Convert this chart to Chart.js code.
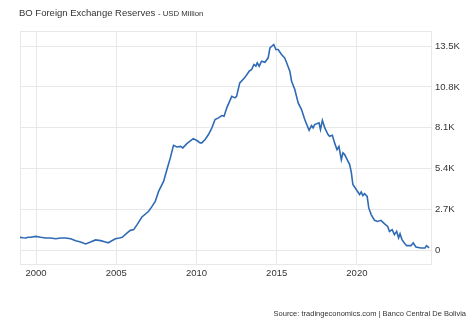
<!DOCTYPE html>
<html>
<head>
<meta charset="utf-8">
<script src="https://cdn.jsdelivr.net/npm/chart.js@4"></script>
<style>
body { margin: 0; background: #fff; }
#wrap { position: relative; width: 474px; height: 324px; font-family: "Liberation Sans", Arial, sans-serif; color: #333; }
#title { position: absolute; left: 19px; top: 7px; font-size: 9.5px; white-space: nowrap; }
#title span { font-size: 7.8px; }
#source { position: absolute; right: 8px; top: 309px; font-size: 7.5px; white-space: nowrap; }
canvas { position: absolute; left: 0; top: 0; }
</style>
</head>
<body>
<div id="wrap">
  <canvas id="chart" width="474" height="324"></canvas>
  <div id="title">BO Foreign Exchange Reserves <span>- USD Million</span></div>
  <div id="source">Source: tradingeconomics.com | Banco Central De Bolivia</div>
</div>
<script>
// decimal years and reserves in USD million
const dates = [
  1999.00, 1999.20, 1999.36, 1999.50, 1999.67, 1999.98, 2000.29, 2000.60,
  2000.91, 2001.22, 2001.53, 2001.84, 2002.16, 2002.47, 2002.78, 2003.09,
  2003.40, 2003.71, 2004.02, 2004.33, 2004.50, 2004.64, 2004.95, 2005.20,
  2005.37, 2005.68, 2005.88, 2006.09, 2006.30, 2006.60, 2007.02, 2007.23,
  2007.43, 2007.64, 2007.95, 2008.16, 2008.37, 2008.57, 2008.78, 2009.00,
  2009.15, 2009.40, 2009.80, 2010.05, 2010.23, 2010.33, 2010.54, 2010.75,
  2010.96, 2011.16, 2011.37, 2011.58, 2011.72, 2011.89, 2012.20, 2012.40,
  2012.50, 2012.70, 2013.00, 2013.29, 2013.44, 2013.58, 2013.70, 2013.79,
  2013.91, 2014.06, 2014.27, 2014.47, 2014.58, 2014.82, 2014.95, 2015.09,
  2015.30, 2015.50, 2015.62, 2015.82, 2015.93, 2016.13, 2016.34, 2016.55,
  2016.75, 2017.02, 2017.17, 2017.27, 2017.37, 2017.64, 2017.73, 2017.85,
  2018.00, 2018.20, 2018.30, 2018.47, 2018.61, 2018.76, 2018.88, 2019.03,
  2019.13, 2019.24, 2019.34, 2019.55, 2019.65, 2019.75, 2019.96, 2020.17,
  2020.27, 2020.37, 2020.48, 2020.64, 2020.74, 2020.89, 2021.10, 2021.30,
  2021.50, 2021.71, 2021.92, 2022.03, 2022.20, 2022.34, 2022.48, 2022.60,
  2022.69, 2022.81, 2022.96, 2023.10, 2023.37, 2023.51, 2023.68, 2023.99,
  2024.25, 2024.34, 2024.50
];
const reserves = [
  880, 850, 840, 880, 880, 940, 880, 840,
  840, 790, 840, 840, 790, 660, 570, 440,
  570, 710, 660, 570, 520, 600, 790, 840,
  880, 1170, 1340, 1390, 1720, 2220, 2600, 2920,
  3250, 3910, 4570, 5350, 6120, 6950, 6840, 6880,
  6780, 7060, 7390, 7250, 7110, 7110, 7330, 7660,
  8100, 8650, 8760, 8910, 8860, 9420, 10180, 10080,
  10180, 11070, 11400, 11840, 11950, 12280, 12170, 12390,
  12170, 12500, 12430, 12720, 13380, 13600, 13270, 13270,
  12940, 12720, 12390, 11840, 11180, 10630, 9750, 9310,
  8650, 7940, 8250, 8100, 8320, 8430, 7990, 8600,
  8100, 7660, 7540, 7610, 7110, 6670, 6880, 6000,
  6450, 6340, 6120, 5680, 5180, 4360, 4030, 3700,
  3870, 3630, 3760, 3580, 2820, 2380, 2000, 1930,
  2000, 1780, 1600, 1270, 1390, 1060, 1270, 840,
  1120, 730, 510, 330, 330, 510, 240, 180,
  180, 330, 180
];
const xTicks = [2000, 2005, 2010, 2015, 2020];
const xTickLabels = ['2000', '2005', '2010', '2015', '2020'];
const yTicks = [0, 2700, 5400, 8100, 10800, 13500];
const yTickLabels = ['0', '2.7K', '5.4K', '8.1K', '10.8K', '13.5K'];

const xMin = 1999.0, xMax = 2024.62;
const yMin = -880, yMax = 14490;
const gridColor = '#e8e8e8';
const tickFont = { family: '"Liberation Sans", Arial, sans-serif', size: 9.5 };

const points = [];
for (let i = 0; i < dates.length; i++) {
    points.push({ x: dates[i], y: reserves[i] });
}

const ctx = document.getElementById('chart').getContext('2d');
new Chart(ctx, {
    type: 'line',
    data: {
        datasets: [{
            data: points,
            borderColor: '#2f6bb5',
            borderWidth: 1.6,
            pointRadius: 0,
            tension: 0,
            fill: false
        }]
    },
    options: {
        responsive: false,
        animation: false,
        layout: { padding: { left: 20, top: 31, right: 0, bottom: 40 } },
        plugins: { legend: { display: false }, tooltip: { enabled: false } },
        scales: {
            x: {
                type: 'linear',
                min: xMin,
                max: xMax,
                afterBuildTicks: (scale) => {
                    scale.ticks = [xMin].concat(xTicks, [xMax]).map(v => ({ value: v }));
                },
                afterFit: (scale) => { scale.height = 20; },
                grid: { color: gridColor, drawTicks: false },
                border: { color: gridColor },
                ticks: {
                    padding: 4,
                    color: '#333',
                    font: tickFont,
                    maxRotation: 0,
                    autoSkip: false,
                    callback: (value) => {
                        const i = xTicks.indexOf(value);
                        return i >= 0 ? xTickLabels[i] : '';
                    }
                }
            },
            y: {
                position: 'right',
                min: yMin,
                max: yMax,
                afterBuildTicks: (scale) => {
                    scale.ticks = [yMin].concat(yTicks, [yMax]).map(v => ({ value: v }));
                },
                afterFit: (scale) => { scale.width = 43; },
                grid: { color: gridColor, drawTicks: false },
                border: { color: gridColor },
                ticks: {
                    padding: 4,
                    color: '#333',
                    font: tickFont,
                    autoSkip: false,
                    callback: (value) => {
                        const i = yTicks.indexOf(value);
                        return i >= 0 ? yTickLabels[i] : '';
                    }
                }
            }
        }
    }
});
</script>
</body>
</html>
